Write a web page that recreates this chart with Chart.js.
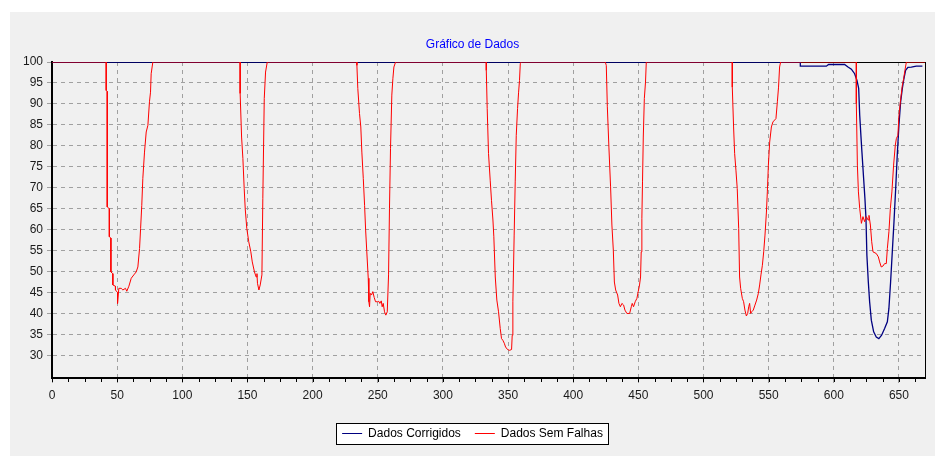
<!DOCTYPE html>
<html>
<head>
<meta charset="utf-8">
<script src="https://cdn.jsdelivr.net/npm/chart.js@4.4.1/dist/chart.umd.min.js"></script>
<style>
html,body{margin:0;padding:0;background:#fff;}
canvas{display:block;}
</style>
</head>
<body>
<canvas id="c" width="939" height="458"></canvas>
<script>
// ---- data ----
const title = 'Gráfico de Dados';
const seriesNames = ['Dados Corrigidos', 'Dados Sem Falhas'];
const xTicks = [0,50,100,150,200,250,300,350,400,450,500,550,600,650];
const yTicks = [30,35,40,45,50,55,60,65,70,75,80,85,90,95,100];

const semFalhasX = [0,
 41.6,41.6,42.4,42.4,44,44,45.2,45.2,46.7,46.7,48.7,48.7,50.3,50.3,51.3,53.1,54.4,56.4,57.4,59,60.8,62.8,64.6,65.9,67.2,68,68.9,69.7,71,72.3,73.6,74.8,75.6,76.1,77.4,
 144.4,144.4,145.5,146.5,147.5,148.3,149.5,151,152.6,153.7,155.4,156.7,157.3,157.7,158.8,159.8,161.1,161.8,162.9,163.9,165.2,
 234,234,234.7,236,237,237.8,238.9,239.9,240.7,241.6,242.7,243.2,243.7,244.2,245.2,246.2,247.3,248.3,249.8,250.8,251.6,252.7,253.4,254.2,255.2,256.2,257.3,258.3,259,259.8,260.8,261.6,262.4,263.7,
 333.3,333.3,334,335,336.3,337.3,338.4,339.1,340.2,341.4,342.7,344,345,346,347.1,348.1,349.6,351.2,352.7,353.2,353.7,354.7,355.5,356.3,357.3,358.1,358.8,359.4,360.1,
 424.6,425.4,426.2,427.4,428.7,429.7,430.8,431.6,432.6,434.1,435.1,436.2,437.4,438.7,439.7,441.2,443.3,444.6,445.3,446.3,447.6,448.9,449.9,450.9,451.7,452.2,452.7,453.2,453.8,454.6,455.5,456.1,
 522.1,522.1,523.1,523.9,524.9,525.9,527,527.7,528.5,529.8,530.8,531.8,532.9,533.9,534.7,535.4,536.2,537,538.2,539.5,540.8,542.1,543.1,544.1,545.2,546.2,547.2,548.3,549,549.8,550.8,552.1,553.3,555.6,556.7,557.6,558.4,559.2,
 617.3,617.3,618.1,618.9,619.9,621.2,622.4,623.7,625,626.3,627,628.1,629.1,630.1,632.6,634.2,635.2,636.4,637.7,639,640.3,641.1,642.3,643.4,644.6,645.9,647.2,648,649.2,650,651.1,652.6,653.6,654.6,655.7,670];
const semFalhasY = [100,
 100,93.2,93,65.4,65,58.3,58,49.9,49.5,46.8,46.5,45.6,45,42.4,46,46,45.6,46,45.3,46.5,48.4,49.2,49.9,51.1,55.5,60.3,65.8,72.2,78.5,83.3,84.9,90.5,92.8,97.2,100,
 100,92.5,82.1,77,69.8,65,60.3,57.1,54.7,52.3,49.9,48.7,49.5,47.2,45.6,46.8,49.2,67.4,91.3,97.6,100,
 100,99.2,93.7,87.7,84.5,78.5,72.2,65.8,59.9,54.7,48.4,42.8,41.6,44.8,44.4,45.2,43.8,42.8,42.8,42.9,42.4,43,41.6,42.4,40.4,39.6,40.4,49.2,65,79.3,92.1,96,98.8,100,
 100,98,88.9,78.2,71.8,67,62.3,58.3,48.7,43.2,40.4,36.4,34,33.6,32.9,32,31.4,31.2,31.4,34.8,42.8,58.7,71.4,82.5,88.9,92.8,95.6,99.6,100,
 100,99.2,89.3,79.7,70.2,61.1,55.1,47.5,45.6,44.4,42.4,41.6,42.4,42,40.8,40,40,41.6,42.4,41.6,42.8,43.6,45.2,46.8,48.7,54.7,62.7,71.4,82.1,91.3,95.2,100,
 100,94,84.5,78.2,74.2,69.8,60.3,48.7,46,43.6,42.8,40.8,39.4,40,41.6,42.4,40,40.4,40.8,42,43.2,44.8,46.8,49.2,51.5,54.7,58.7,64.2,69,75.4,80.9,84.5,85.7,86.5,90.5,94,98.8,100,
 100,90.1,75.4,69,65,61.5,63.1,61.9,63.1,62.3,63.4,61.1,57.1,54.7,54.3,53.5,52.3,51.1,51.3,51.9,51.9,55.5,59.5,65,69,75.4,80.1,81.7,82.5,87.3,90.5,94.4,96,98,100,100];

const corrigidosX = [0,574.3,574.3,594.3,596,608.3,610.9,613.5,616,617.8,619.1,619.9,620.8,621.6,622.9,623.9,624.7,625.4,626.5,627.5,628.8,630.6,632.6,634.6,636.7,639,641.1,642.3,643.6,644.9,646.2,647.5,648.7,650,651.3,652.6,653.8,655.1,656.9,659.5,663.3,668];
const corrigidosY = [100,100,99,99,99.4,99.4,98.8,98.3,97.2,95.6,93.7,87.3,82.5,78.5,72.2,67.4,62.7,53.9,47.5,42.8,38.4,35.6,34.4,34,34.8,36.4,38,41.2,47.5,54.7,61.9,69.8,77.8,84.9,90.5,93.7,96,98,98.7,98.8,99,99];

// ---- chart ----
const toPts = (xs, ys) => xs.map((x, i) => ({x: x, y: ys[i]}));
const FONT = "'Liberation Sans', Arial, sans-serif";

const decor = {
  id: 'decor',
  beforeDraw(chart) {
    const ctx = chart.ctx;
    ctx.save();
    ctx.fillStyle = '#ffffff';
    ctx.fillRect(0, 0, chart.width, chart.height);
    ctx.fillStyle = '#f0f0f0';
    ctx.fillRect(10, 12, 925, 444);
    const lg = chart.legend;
    if (lg && lg.legendHitBoxes && lg.legendHitBoxes.length) {
      const hb = lg.legendHitBoxes;
      const l = Math.min(...hb.map(h => h.left)) - 6;
      const r = Math.max(...hb.map(h => h.left + h.width)) + 5;
      const cy = hb[0].top + hb[0].height / 2;
      ctx.fillStyle = '#ffffff';
      ctx.fillRect(Math.round(l), Math.round(cy - 10.5), Math.round(r - l), 21);
      ctx.strokeStyle = '#000000';
      ctx.lineWidth = 1;
      ctx.strokeRect(Math.round(l) + 0.5, Math.round(cy - 10.5) + 0.5, Math.round(r - l), 21);
    }
    ctx.restore();
  },
  beforeDatasetsDraw(chart) {
    const {ctx, chartArea: a, scales} = chart;
    ctx.save();
    ctx.strokeStyle = '#000';
    ctx.lineWidth = 1;
    ctx.beginPath();
    ctx.moveTo(a.left, a.top + 0.5); ctx.lineTo(a.right, a.top + 0.5);
    ctx.moveTo(a.right + 0.5, a.top); ctx.lineTo(a.right + 0.5, a.bottom);
    ctx.stroke();
    // minor ticks on x axis
    ctx.beginPath();
    for (let v = 0; v <= scales.x.max; v += 12.5) {
      const px = Math.round(scales.x.getPixelForValue(v)) + 0.5;
      ctx.moveTo(px, a.bottom + 1); ctx.lineTo(px, a.bottom + 4);
    }
    ctx.stroke();
    ctx.restore();
  }
};

new Chart(document.getElementById('c'), {
  type: 'line',
  data: {
    datasets: [
      {label: seriesNames[0], data: toPts(corrigidosX, corrigidosY), borderColor: '#000080', backgroundColor: '#000080', borderWidth: 1.3, pointRadius: 0, tension: 0, order: 1},
      {label: seriesNames[1], data: toPts(semFalhasX, semFalhasY), borderColor: '#ff0000', backgroundColor: '#ff0000', borderWidth: 1, pointRadius: 0, tension: 0, order: 0}
    ]
  },
  options: {
    responsive: false,
    animation: false,
    events: [],
    layout: {padding: {left: 20, right: 14, top: 12, bottom: 8.5}},
    plugins: {
      title: {display: true, text: title, color: '#0000ff', font: {family: FONT, size: 12, weight: 'normal'}, padding: {top: 25.8, bottom: 9.8}},
      legend: {
        position: 'bottom',
        labels: {
          font: {family: FONT, size: 12}, color: '#000', boxWidth: 20, boxHeight: 1, padding: 14,
          sort: (a, b) => a.datasetIndex - b.datasetIndex,
          generateLabels: (chart) => Chart.defaults.plugins.legend.labels.generateLabels(chart).map(l => Object.assign(l, {lineWidth: 0, fillStyle: l.strokeStyle}))
        }
      },
      tooltip: {enabled: false}
    },
    scales: {
      x: {
        type: 'linear', min: 0, max: 670,
        afterBuildTicks: s => { s.ticks = xTicks.map(v => ({value: v})); },
        afterFit: s => { s.height = 35.5; },
        ticks: {font: {family: FONT, size: 12}, color: '#1a1a1a', padding: 5, maxRotation: 0},
        grid: {color: '#a0a0a0', lineWidth: 1, tickLength: 5, tickColor: '#a0a0a0'},
        border: {display: true, color: '#000', width: 2, dash: [4, 4]}
      },
      y: {
        type: 'linear', min: 24.6, max: 100,
        afterBuildTicks: s => { s.ticks = yTicks.map(v => ({value: v})); },
        afterFit: s => { s.width = 32; },
        ticks: {font: {family: FONT, size: 12}, color: '#1a1a1a', padding: 4},
        grid: {color: '#a0a0a0', lineWidth: 1, tickLength: 5, tickColor: '#a0a0a0'},
        border: {display: true, color: '#000', width: 2, dash: [4, 4]}
      }
    }
  },
  plugins: [decor]
});
</script>
</body>
</html>
